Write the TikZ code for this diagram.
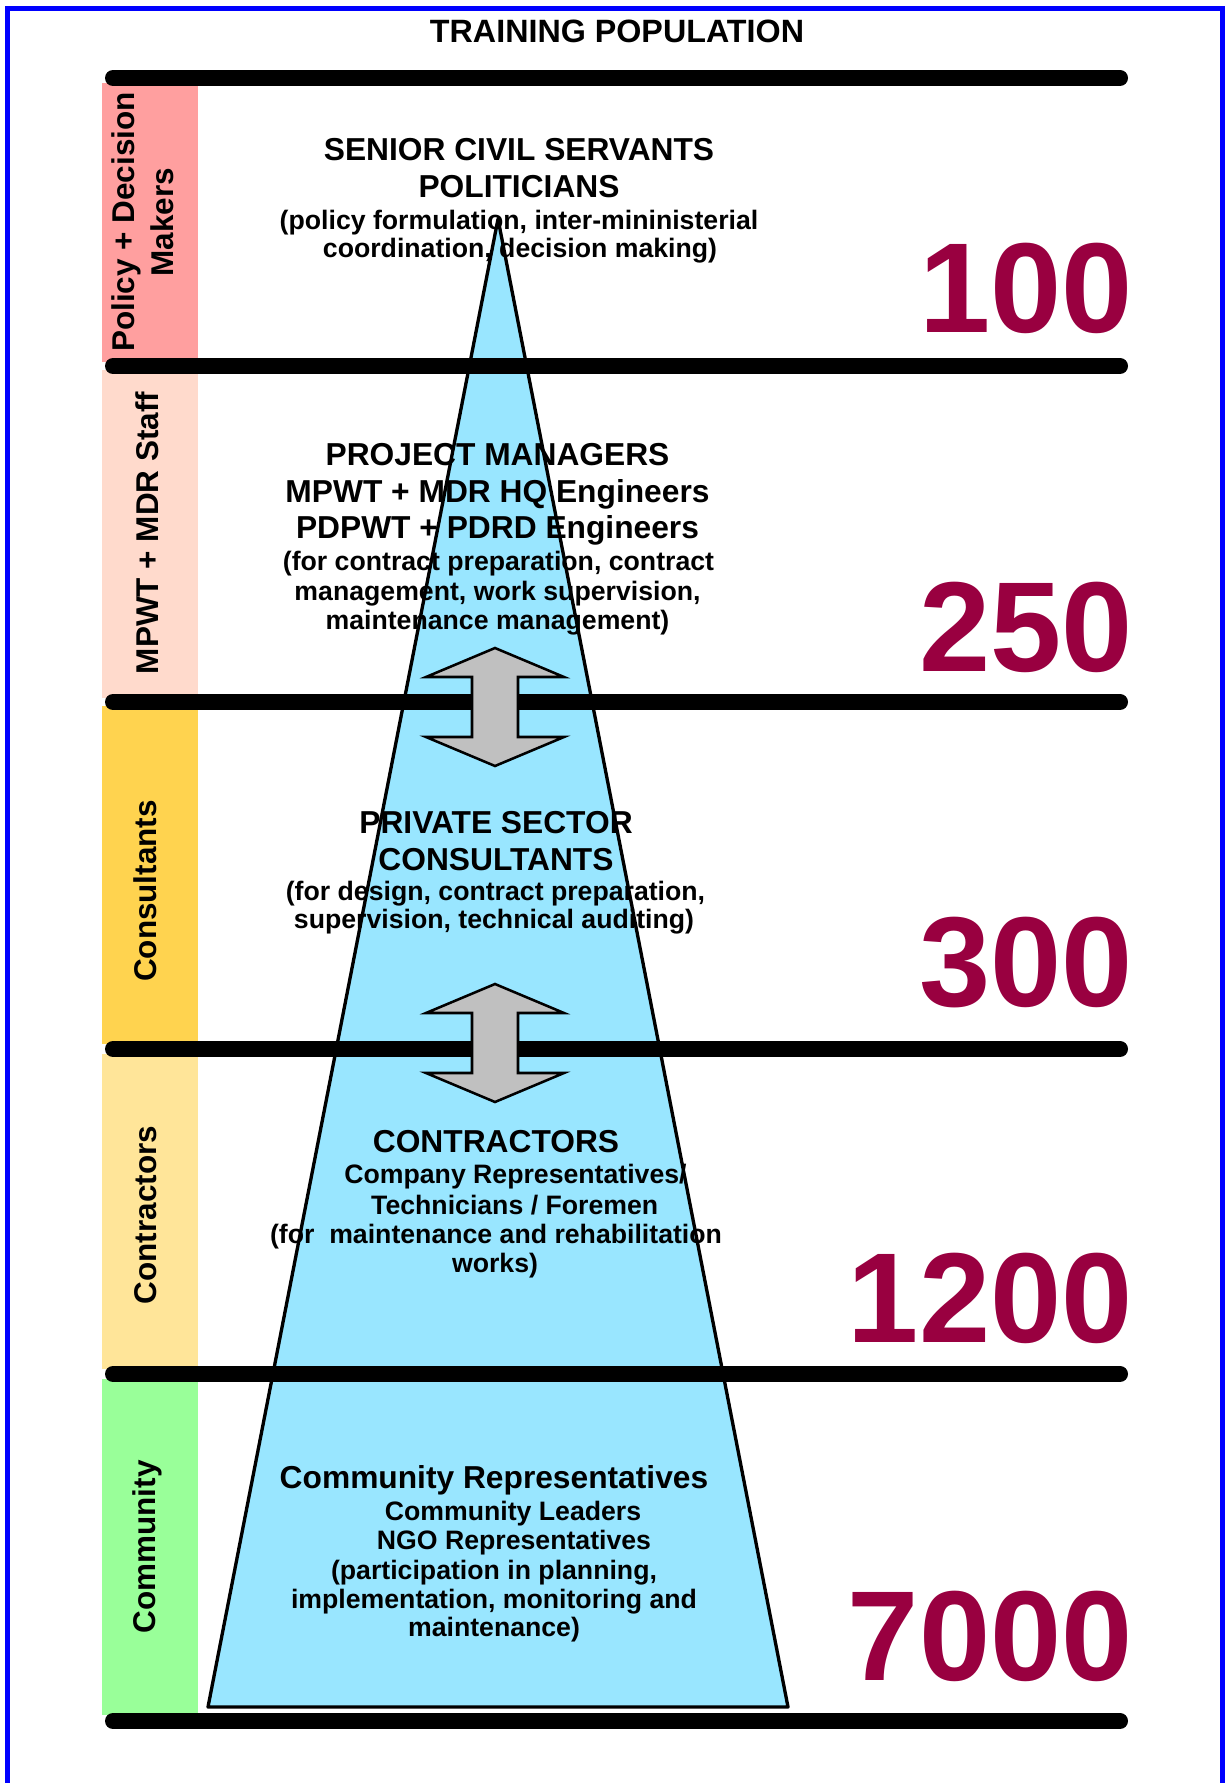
\documentclass[tikz,border=0pt]{standalone}
\usepackage{fontspec}
\setmainfont{Liberation Sans}
\definecolor{polc}{HTML}{FF9F9F}
\definecolor{mpwc}{HTML}{FFDACC}
\definecolor{conc}{HTML}{FFD34F}
\definecolor{ctrc}{HTML}{FFE599}
\definecolor{comc}{HTML}{99FF99}
\definecolor{trif}{HTML}{99E6FF}
\definecolor{numc}{HTML}{990040}
\definecolor{arrg}{HTML}{C0C0C0}
\definecolor{frameblue}{HTML}{0000FF}
\begin{document}
\begin{tikzpicture}[x=0.75pt,y=-0.75pt,
  bar/.style={line width=12pt,line cap=round},
  lab/.style={rotate=90,anchor=base,inner sep=0pt,font=\fontsize{23.6}{28}\selectfont\bfseries},
  head/.style={anchor=base,inner sep=0pt,font=\fontsize{23.8}{28}\selectfont\bfseries},
  small/.style={anchor=base,inner sep=0pt,font=\fontsize{20}{24}\selectfont\bfseries},
  num/.style={anchor=base east,inner sep=0pt,text=numc,font=\fontsize{96}{108}\selectfont\bfseries},
  dbl/.style={fill=arrg,draw=black,line width=1.9pt,line join=miter},
  tri/.style={fill=trif,draw=black,line width=2.5pt,line join=round}
]
\useasboundingbox (0,0) rectangle (1226,1783);
\fill[white] (0,0) rectangle (1226,1783);
% frame
\draw[frameblue,line width=3.75pt] (7,1800) -- (7,9) -- (1222,9) -- (1222,1800);
% coloured bands
\fill[polc] (102,83) rectangle (198,362);
\fill[mpwc] (102,370) rectangle (198,698);
\fill[conc] (102,706) rectangle (198,1044);
\fill[ctrc] (102,1054) rectangle (198,1369);
\fill[comc] (102,1379) rectangle (198,1715);
% band labels
\node[lab] (lpol1) at (134,222) {Policy + Decision};
\node[lab] (lpol2) at (173,222) {Makers};
\node[lab] (lmpw) at (158,533) {MPWT + MDR Staff};
\node[lab] (lcon) at (156,891) {Consultants};
\node[lab] (lctr) at (156,1215) {Contractors};
\node[lab] (lcom) at (155,1547) {Community};
% title
\node[head,font=\fontsize{24.2}{28}\selectfont\bfseries] (title) at (617,43) {TRAINING POPULATION};
% pyramid
\path[tri] (498,219) -- (788,1707) -- (208,1707) -- cycle;
% section 1
\node[head] (s1a) at (519,161) {SENIOR CIVIL SERVANTS};
\node[head] (s1b) at (519,198) {POLITICIANS};
\node[small] (s1c) at (519,230) {(policy formulation, inter-mininisterial};
\node[small] (s1d) at (520,258) {coordination, decision making)};
% section 2
\node[head] (s2a) at (497.5,465) {PROJECT MANAGERS};
\node[head] (s2b) at (497.5,502) {MPWT + MDR HQ Engineers};
\node[head] (s2c) at (497.5,538) {PDPWT + PDRD Engineers};
\node[small] (s2d) at (498.5,570) {(for contract preparation, contract};
\node[small] (s2e) at (497.5,600) {management, work supervision,};
\node[small] (s2f) at (497.5,629) {maintenance management)};
% section 3
\node[head] (s3a) at (496,833) {PRIVATE SECTOR};
\node[head] (s3b) at (496,870) {CONSULTANTS};
\node[small] (s3c) at (495.5,900) {(for design, contract preparation,};
\node[small] (s3d) at (494,928) {supervision, technical auditing)};
% section 4
\node[head] (s4a) at (496,1152) {CONTRACTORS};
\node[small] (s4b) at (515.5,1183) {Company Representatives/};
\node[small] (s4c) at (514.7,1214) {Technicians / Foremen};
\node[small] (s4d) at (496,1243) {(for~~maintenance and rehabilitation};
\node[small] (s4e) at (495,1272) {works)};
% section 5
\node[head] (s5a) at (494,1488) {Community Representatives};
\node[small] (s5b) at (513,1520) {Community Leaders};
\node[small] (s5c) at (514,1549) {NGO Representatives};
\node[small] (s5d) at (494,1579) {(participation in planning,};
\node[small] (s5e) at (494,1608) {implementation, monitoring and};
\node[small] (s5f) at (494,1636) {maintenance)};
% separator bars
\foreach \yy/\nm in {78/b1,366/b2,702/b3,1049/b4,1374/b5,1721/b6}{
  \coordinate (\nm w) at (113,\yy);
  \coordinate (\nm e) at (1120,\yy);
  \draw[bar] (\nm w) -- (\nm e);
}
% double arrows
\path[dbl] (495,648) -- (564,677) -- (518,677) -- (518,737) -- (564,737) -- (495,766)
  -- (426,737) -- (472,737) -- (472,677) -- (426,677) -- cycle;
\path[dbl] (495,984) -- (564,1013) -- (518,1013) -- (518,1073) -- (564,1073) -- (495,1102)
  -- (426,1073) -- (472,1073) -- (472,1013) -- (426,1013) -- cycle;
% numbers
\node[num] (n1) at (1133,333) {100};
\node[num] (n2) at (1133,671) {250};
\node[num] (n3) at (1133,1006) {300};
\node[num] (n4) at (1133,1342) {1200};
\node[num] (n5) at (1133,1680) {7000};
\end{tikzpicture}
\end{document}
